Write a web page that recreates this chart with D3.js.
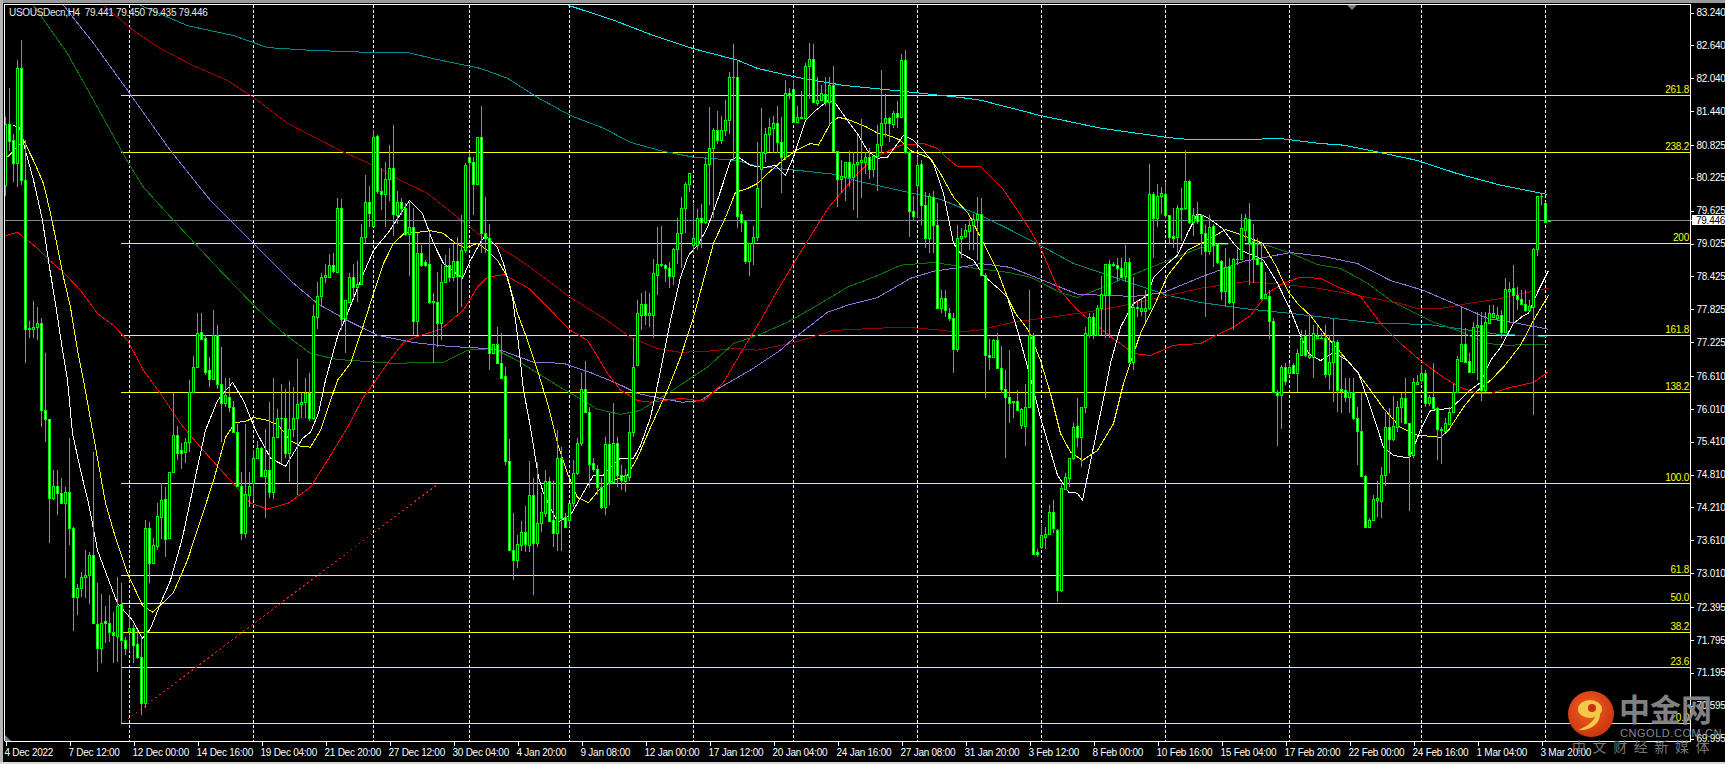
<!DOCTYPE html>
<html><head><meta charset="utf-8"><title>USOUSDecn,H4</title>
<script src="https://cdn.jsdelivr.net/npm/d3@7"></script>
<style>html,body{margin:0;padding:0;background:#000;overflow:hidden}svg{display:block}
text{font-family:"Liberation Sans","DejaVu Sans",sans-serif}</style></head><body>
<svg id="c" width="1725" height="764"></svg>
<script>
const symbolTitle="USOUSDecn,H4  79.441 79.450 79.435 79.446";
const lastPrice=79.446;
const priceTicks=[83.240,82.640,82.040,81.440,80.825,80.225,79.625,79.025,78.425,77.825,77.225,76.610,76.010,75.410,74.810,74.210,73.610,73.010,72.395,71.795,71.195,70.595,69.995];
const timeLabels=["4 Dec 2022","7 Dec 12:00","12 Dec 00:00","14 Dec 16:00","19 Dec 04:00","21 Dec 20:00","27 Dec 12:00","30 Dec 04:00","4 Jan 20:00","9 Jan 08:00","12 Jan 00:00","17 Jan 12:00","20 Jan 04:00","24 Jan 16:00","27 Jan 08:00","31 Jan 20:00","3 Feb 12:00","8 Feb 00:00","10 Feb 16:00","15 Feb 04:00","17 Feb 20:00","22 Feb 00:00","24 Feb 16:00","1 Mar 04:00","3 Mar 20:00"];
const timeLabelBars=timeLabels.map((d,i)=>i*16);
const separatorBars=[31,62,92,116,141,172,197,228,259,290,321,354,385];
const fibNames=["0.0","23.6","38.2","50.0","61.8","100.0","138.2","161.8","200","238.2","261.8"];
const fibPrices=[70.27,71.30,71.94,72.46,72.97,74.65,76.32,77.35,79.03,80.70,81.73];
const fibStartBar=29;
const trendBars=[29.5,108];
const trendPrices=[70.29,74.63];

const opens=[80.09,81.20,80.91,80.49,82.22,80.19,77.48,77.46,77.50,77.57,75.98,75.82,74.39,74.61,74.47,74.30,
74.49,73.83,72.57,72.74,72.94,72.97,73.35,72.09,71.64,72.13,72.11,71.93,71.86,72.44,71.79,71.95,
72.01,71.71,71.49,70.64,73.83,73.19,73.50,74.03,74.36,73.65,74.85,75.54,75.25,75.23,75.40,76.31,
76.78,77.42,77.30,76.71,76.55,77.35,76.47,76.11,76.22,76.05,75.58,74.61,73.74,74.43,74.65,75.11,
75.29,74.78,74.89,74.49,75.49,75.84,75.84,75.20,75.65,75.85,76.09,76.13,76.29,75.84,77.68,78.06,
78.41,78.41,78.64,78.50,79.68,77.66,77.95,78.41,78.23,78.28,79.14,79.78,79.34,80.98,79.98,79.92,
80.21,80.41,79.54,79.78,79.67,79.19,79.32,77.62,78.85,78.68,78.66,77.97,77.95,77.57,78.32,78.64,
78.41,78.70,78.43,78.90,80.61,80.51,80.12,80.96,79.21,79.12,77.02,77.20,76.84,76.60,75.05,73.43,
73.26,73.52,73.76,73.52,74.43,73.56,73.92,74.10,74.70,73.99,73.74,75.11,74.03,73.99,74.30,74.83,
75.38,76.38,75.95,75.03,74.92,74.58,74.21,75.36,74.67,75.38,74.81,74.70,74.76,75.58,76.80,77.73,
77.93,77.73,77.73,78.46,78.63,78.63,78.57,78.44,78.92,79.21,79.68,80.12,78.99,78.99,79.50,79.41,
80.47,80.76,81.09,80.91,81.09,81.27,82.07,82.06,79.56,79.43,78.70,79.03,79.14,80.38,80.67,81.03,
81.14,81.23,80.87,80.60,81.78,81.85,81.25,81.31,81.31,82.27,82.40,81.58,81.65,81.76,81.60,81.91,
80.72,80.21,80.23,80.51,80.23,80.47,80.51,80.51,80.60,80.38,80.63,80.83,81.23,81.31,81.20,81.40,
81.33,82.38,80.69,79.61,80.09,80.47,79.72,79.12,79.87,79.37,77.84,78.04,77.75,77.66,77.11,79.12,
79.17,79.26,79.37,79.47,79.56,78.46,77.00,76.95,77.26,76.75,76.38,76.22,76.15,76.16,75.71,75.69,
76.05,77.35,73.39,73.48,73.68,73.72,74.12,73.79,72.70,74.54,74.74,75.11,75.69,75.49,76.04,77.35,
77.68,77.35,77.84,78.08,78.66,78.63,78.64,78.57,78.43,78.68,76.87,77.86,77.79,77.79,77.84,79.92,
79.50,79.89,79.92,79.54,79.16,79.14,79.65,79.67,80.16,79.41,79.54,79.54,79.21,78.88,79.34,79.01,
78.70,78.15,78.61,77.95,78.74,78.75,79.28,79.48,79.08,78.77,78.68,78.04,78.06,77.62,76.31,76.26,
76.77,76.66,76.80,76.66,77.00,77.33,76.95,76.95,77.30,77.31,77.30,76.64,76.86,77.22,76.38,76.35,
76.22,76.31,75.85,75.60,74.78,73.85,73.99,74.34,74.32,74.80,75.67,75.45,75.67,76.05,76.20,75.76,
75.16,76.47,76.53,76.67,76.11,76.22,76.02,75.65,75.60,75.74,75.95,76.31,76.89,77.19,76.89,76.69,
77.50,77.53,76.36,77.57,77.68,77.66,77.73,77.42,78.15,78.21,78.08,78.01,77.93,77.82,77.86,78.92,
79.89,79.76,79.441];
const highs=[81.34,81.87,81.03,82.38,82.73,80.91,77.62,77.97,77.86,77.66,77.02,75.82,74.89,74.89,74.74,74.58,
75.47,73.85,72.81,73.03,73.43,73.39,75.23,72.83,72.64,72.42,72.61,72.30,72.95,72.84,71.84,72.33,
72.06,71.97,71.84,73.99,73.94,73.66,74.29,74.65,74.58,74.85,76.29,75.69,75.38,75.47,76.53,76.98,
77.75,77.75,77.35,76.95,77.82,77.53,77.13,76.57,76.57,76.16,75.74,74.85,75.74,74.85,75.25,75.43,
75.31,75.65,76.13,76.58,76.00,76.47,76.38,76.51,76.40,76.91,76.29,76.58,76.66,77.90,78.32,78.48,
78.66,78.83,78.85,79.85,79.83,77.99,78.48,78.66,78.70,79.39,80.27,80.07,81.09,81.00,80.40,80.51,
80.83,81.18,79.99,79.85,79.76,79.78,79.68,79.21,78.99,78.72,79.23,78.12,78.50,78.66,78.81,78.94,
79.01,79.14,79.54,80.49,80.67,80.60,80.96,81.54,79.87,79.39,77.19,77.50,77.39,76.78,75.45,74.10,
73.70,73.97,74.23,75.05,74.74,75.03,74.47,74.89,74.76,74.69,75.63,75.31,74.10,74.30,75.07,75.47,
76.66,76.89,76.05,75.12,74.98,74.74,75.49,75.93,76.11,75.49,74.98,74.92,75.89,77.31,77.99,78.13,
78.15,78.12,78.75,79.32,79.34,78.66,78.68,78.94,79.50,79.87,80.14,80.32,79.74,79.65,79.74,80.60,
81.51,81.13,81.45,81.36,81.64,82.16,82.66,82.37,79.61,79.45,79.03,79.34,80.87,81.49,81.14,81.31,
81.36,81.54,81.33,82.00,81.87,82.00,81.54,81.80,82.31,82.68,82.66,82.06,81.91,82.06,82.06,82.27,
80.72,80.54,80.51,80.72,80.69,81.00,81.29,80.69,80.76,80.63,81.18,82.20,81.75,81.33,81.45,81.62,
82.49,82.55,80.72,79.90,80.60,80.54,79.96,79.94,79.99,79.76,78.17,78.17,77.84,77.75,79.36,79.30,
79.39,79.48,79.57,79.87,79.85,78.48,77.29,77.29,77.39,77.15,76.71,77.08,76.16,76.35,76.02,76.47,
78.17,77.39,73.46,73.90,73.85,74.25,74.34,73.81,74.65,74.83,75.11,75.76,76.20,76.04,77.50,77.75,
77.75,77.90,78.44,78.66,78.72,78.68,78.77,78.77,78.99,78.77,78.41,77.99,78.04,78.17,80.47,79.96,
80.12,80.05,80.14,79.54,79.68,79.72,80.03,80.74,80.18,79.68,79.78,79.57,79.36,79.54,79.39,79.03,
78.72,78.94,78.77,78.77,78.94,79.57,79.57,79.76,79.39,79.12,79.03,78.50,78.17,77.66,76.35,76.80,
76.84,76.84,76.84,77.11,77.44,77.44,77.71,77.53,77.53,77.39,77.53,77.35,77.64,77.26,77.04,76.58,
76.57,76.57,76.04,76.29,74.80,74.01,74.43,74.70,74.94,75.95,76.02,76.24,76.16,76.29,76.57,75.76,
76.57,76.62,76.80,76.71,76.26,76.84,76.04,75.67,75.85,76.04,76.47,76.98,77.86,77.48,77.02,77.59,
77.77,77.77,77.77,77.90,77.90,77.86,77.81,78.39,78.32,78.64,78.23,78.17,78.17,77.99,78.94,79.90,
79.94,79.78,79.45];
const lows=[79.90,80.72,80.14,80.05,80.10,76.84,77.30,77.31,77.26,75.67,75.40,73.56,74.34,74.07,74.30,72.92,
73.52,71.95,72.24,72.57,72.55,72.44,72.11,71.20,71.37,71.73,71.75,71.37,71.39,70.27,71.51,71.60,
71.37,71.44,70.42,70.55,72.84,73.17,73.43,73.63,73.30,73.65,74.85,75.07,74.92,75.03,75.22,76.29,
76.77,77.26,76.62,76.40,76.53,76.38,75.40,76.04,75.95,75.56,74.61,73.61,73.65,74.21,74.34,75.11,
74.76,74.01,74.39,74.36,75.47,75.01,75.11,74.67,75.49,74.43,75.85,75.85,75.78,75.80,77.46,77.86,
78.30,78.39,78.48,78.50,77.44,77.02,77.95,78.04,77.95,78.26,79.03,79.32,79.34,79.92,79.63,79.32,
79.81,79.17,79.39,79.54,79.17,78.44,77.35,77.35,78.59,78.59,77.93,76.84,77.13,77.26,78.32,78.32,
78.35,77.75,77.86,78.86,79.39,79.54,80.12,78.85,78.85,76.71,77.02,76.84,76.58,74.98,73.43,72.88,
73.10,73.41,73.39,73.39,72.61,73.48,73.76,74.03,73.94,73.48,73.41,73.41,73.83,73.85,74.21,74.80,
75.34,75.95,74.56,74.85,74.43,74.19,74.07,74.25,74.65,74.58,74.52,74.49,74.70,75.49,76.80,77.44,
77.53,77.50,77.31,78.08,78.59,78.32,78.21,78.26,78.66,78.57,79.21,79.96,78.85,78.90,78.94,79.39,
79.72,79.50,80.85,80.85,80.98,81.03,80.54,79.30,79.23,78.66,78.44,78.63,79.08,79.67,80.51,80.69,
80.67,80.67,79.94,80.54,81.67,81.23,81.23,81.31,81.31,81.67,81.58,81.54,81.64,81.54,81.18,80.69,
79.70,79.94,79.81,80.05,79.63,79.50,79.85,80.30,80.21,80.23,79.99,80.67,80.96,80.87,81.14,81.14,
81.31,80.65,79.14,79.45,79.50,79.36,78.95,78.86,78.85,77.84,77.75,77.68,77.62,76.67,77.04,78.77,
79.12,78.90,78.90,78.72,78.44,76.20,76.71,76.93,76.73,76.29,75.12,75.76,75.85,75.98,75.65,75.34,
76.04,73.35,73.30,73.46,73.46,73.70,73.74,72.48,72.66,74.52,74.58,75.07,75.31,74.94,75.93,77.31,
77.29,77.35,77.35,77.31,77.31,78.59,78.35,78.39,78.32,76.84,76.71,77.68,77.71,77.59,77.81,78.77,
79.32,79.57,79.50,79.03,78.94,78.85,79.08,79.63,79.39,79.17,79.39,78.81,77.68,78.81,78.59,78.66,
77.99,77.86,77.93,77.44,78.63,78.72,79.08,78.26,78.30,78.66,77.99,78.02,77.29,76.29,75.34,75.65,
76.44,76.66,76.66,76.31,76.99,76.95,76.91,76.57,77.30,77.28,76.58,76.35,76.13,75.95,75.93,76.13,
75.93,75.80,74.98,74.76,73.83,73.83,73.97,74.03,74.01,74.61,74.83,75.43,75.58,75.76,75.74,74.14,
75.12,76.44,76.47,76.04,76.07,76.02,75.07,75.01,75.58,75.74,75.93,76.29,76.86,76.86,76.66,76.67,
76.53,76.16,76.31,77.57,77.66,77.66,77.30,77.39,77.57,77.57,77.81,77.90,77.77,77.81,75.89,78.79,
79.72,79.41,79.435];
const closes=[81.20,80.89,80.49,82.22,80.19,77.46,77.46,77.51,77.57,75.98,75.82,74.38,74.61,74.47,74.30,74.50,
73.83,72.57,72.74,72.95,72.97,73.34,72.11,71.64,72.11,72.11,71.93,71.88,72.41,71.80,71.64,72.01,
71.70,71.48,70.64,73.83,73.19,73.52,74.05,74.34,73.63,74.85,75.54,75.20,75.20,75.40,76.31,76.78,
77.40,77.28,76.69,76.55,77.35,76.47,76.11,76.26,76.04,75.58,74.61,73.74,74.45,74.61,75.11,75.29,
74.78,74.89,74.49,75.49,75.85,75.85,75.20,75.65,75.85,76.09,76.13,76.29,75.84,77.70,78.06,78.41,
78.46,78.63,78.53,79.68,77.64,77.99,78.41,78.23,78.28,79.14,79.78,79.59,80.96,79.98,79.92,80.21,
80.41,79.57,79.79,79.67,79.19,79.32,77.62,78.85,78.64,78.63,77.95,77.95,77.57,78.33,78.61,78.41,
78.70,78.43,78.90,80.45,80.51,80.12,80.96,79.21,79.12,77.02,77.19,76.84,76.58,75.05,73.43,73.26,
73.54,73.76,73.54,74.43,73.56,73.92,74.12,74.70,73.97,73.74,75.11,74.01,73.85,74.30,74.83,75.38,
76.38,75.95,75.01,74.92,74.58,74.21,75.36,74.67,75.38,74.81,74.72,74.81,75.58,76.78,77.75,77.93,
77.73,77.75,78.48,78.66,78.66,78.57,78.44,78.92,79.21,79.68,80.12,80.32,79.12,79.50,79.41,80.47,
80.76,81.09,80.92,81.09,81.27,82.07,82.06,79.52,79.41,78.70,79.03,79.14,80.03,80.69,81.03,81.16,
81.23,80.87,80.60,81.78,81.73,81.25,81.34,81.34,82.27,82.40,81.60,81.65,81.78,81.60,81.91,80.72,
80.21,80.25,80.51,80.23,80.47,80.52,80.54,80.60,80.38,80.63,80.85,81.23,81.31,81.22,81.40,81.33,
82.38,80.69,79.61,79.52,80.45,79.72,79.12,79.89,79.36,77.84,78.04,77.82,77.66,77.11,79.12,79.17,
79.28,79.37,79.48,79.56,78.46,77.00,76.95,77.26,76.75,76.38,76.22,76.11,76.13,75.98,76.00,76.04,
77.35,73.37,73.37,73.70,73.72,74.12,73.83,72.70,74.56,74.76,75.11,75.67,75.49,76.04,77.39,77.68,
77.35,77.84,78.10,78.66,78.08,78.66,78.57,78.41,78.68,76.87,77.86,77.84,77.84,77.84,79.92,79.50,
79.90,79.94,79.54,79.14,79.12,79.68,79.68,80.16,79.41,79.54,79.43,79.21,78.88,79.32,78.99,78.68,
78.15,78.59,77.95,78.75,78.75,79.30,79.50,79.06,78.77,78.66,78.04,78.10,77.62,76.31,76.27,76.77,
76.51,76.78,76.66,77.02,77.31,77.00,77.00,77.40,77.33,77.30,76.64,76.86,77.24,76.36,76.33,76.22,
76.31,75.85,75.60,74.78,73.85,73.99,74.36,74.38,74.81,75.67,75.45,75.69,76.05,76.20,75.76,75.16,
76.49,76.49,76.66,76.11,76.22,76.02,75.65,75.62,75.76,75.95,76.31,76.91,77.19,76.87,76.69,77.51,
77.53,76.36,77.60,77.75,77.75,77.73,77.42,78.19,78.19,78.08,78.01,77.92,77.82,77.88,78.92,79.90,
79.90,79.41,79.446];

const maWhite=[[2,81.18],[3.5,81.14],[4.5,80.85],[7,80.18],[9.25,79.45],[11,78.59],[12.5,77.93],[14.25,77.08],[15.5,76.53],[16.75,75.56],[18.75,74.89],[20.75,74.29],[23,73.43],[25.5,72.94],[28,72.46],[31.75,72.15],[34.25,71.82],[36.25,72.0],[38.75,72.46],[41.25,72.88],[44.25,73.66],[46.75,74.52],[50,75.62],[53,76.16],[56.75,76.49],[59.5,76.16],[62.5,75.62],[66.25,75.11],[70,74.96],[72,75.2],[74.25,75.47],[76.25,75.58],[78.25,75.93],[80,76.53],[83.25,77.39],[85,77.66],[89.5,78.48],[92,78.9],[95.75,79.23],[101,79.81],[104.25,79.57],[107,79.03],[109.5,78.66],[114.25,78.39],[116.25,78.72],[118.75,79.05],[120,79.17],[123,78.95],[124.5,78.66],[126.75,78.04],[128,77.35],[129.5,76.35],[131.25,75.67],[133.25,74.76],[134.5,74.47],[138,73.94],[141.25,74.07],[143.75,74.39],[147,74.8],[149.5,74.8],[151.25,74.94],[153.75,75.11],[157,75.11],[158.75,75.34],[161.25,75.85],[163.25,76.53],[166.25,77.62],[168.75,78.41],[170.75,78.81],[173,78.99],[175.5,79.32],[178.25,79.87],[181.25,80.54],[183,80.61],[186.25,80.45],[189.5,80.41],[192.5,80.45],[195,80.27],[197,80.6],[200,81.27],[202,81.42],[205.75,81.64],[207.5,81.58],[210.5,81.27],[213,81.03],[215.5,80.72],[218,80.58],[220.5,80.6],[223,80.85],[224.5,81.0],[227,80.91],[229.5,80.72],[232,80.49],[234.5,79.94],[237,79.03],[238.75,78.85],[242,78.72],[244.5,78.44],[248.75,78.17],[250.5,78.04],[253,77.44],[255.75,76.71],[258.75,75.85],[263,74.8],[265.75,74.49],[268,74.47],[269.25,74.34],[273.75,75.93],[276.25,76.84],[278.75,77.5],[282,77.93],[285.5,78.08],[287,78.41],[290.5,78.66],[293,78.81],[295.5,79.21],[298,79.57],[300.5,79.5],[304.25,79.3],[307,79.03],[308.75,78.9],[312,78.81],[314.5,78.72],[318,78.3],[321.25,77.81],[323.75,77.35],[325.75,77.02],[328.75,76.89],[332,77.04],[335.5,76.89],[338.25,76.66],[341.25,76.04],[344.5,75.31],[347,75.16],[351,75.11],[353.75,75.62],[356.25,75.98],[361.25,76.02],[363,76.13],[365.5,76.31],[368.75,76.49],[371.25,76.89],[373.75,77.13],[377,77.57],[379.5,77.71],[380.75,77.75],[383,78.13],[385.75,78.53]];
const maYellow=[[0.5,80.6],[2,80.72],[4.5,80.91],[7,80.54],[9.5,80.12],[11.25,79.58],[13,78.95],[14.5,78.41],[16.25,77.86],[18,77.08],[19.5,76.53],[22.5,75.31],[25,74.29],[27.5,73.66],[30.5,73.01],[34.25,72.42],[36.75,72.3],[39.5,72.48],[42,72.66],[45.5,73.25],[48.75,73.97],[52,74.7],[55,75.49],[57.5,75.76],[60,75.78],[62,75.85],[65.5,75.8],[68.25,75.71],[71.25,75.43],[73.75,75.33],[76.25,75.31],[78.75,75.62],[83,76.53],[86.25,76.84],[89.25,77.48],[92,78.12],[94.5,78.66],[97,79.03],[100,79.23],[103,79.23],[106.25,79.26],[109.5,79.21],[112.5,79.03],[115,78.94],[118,79.03],[120.5,78.9],[123,78.72],[125.5,78.41],[128,77.75],[130.5,77.26],[133,76.71],[135.5,76.11],[138,75.38],[140.5,74.83],[143,74.39],[145.75,74.3],[148.75,74.56],[152,74.7],[155.5,74.8],[158,75.12],[161.25,75.67],[165.5,76.35],[168.75,76.95],[172,77.68],[177,79.03],[180,79.5],[182.5,79.96],[185.5,80.03],[188,80.12],[190.5,80.3],[194.25,80.54],[197.5,80.72],[201.25,80.85],[203.25,80.82],[206.25,81.22],[208.25,81.33],[211.25,81.27],[215,81.16],[218.25,81.03],[220.75,81],[223.75,80.91],[226.25,80.72],[231.25,80.58],[233.75,80.3],[237,79.87],[240.75,79.57],[244.5,79.03],[248,78.53],[250.5,78.04],[252.5,77.75],[255.75,77.44],[258.75,76.89],[261.25,76.29],[263.75,75.56],[266.25,75.22],[269.25,75.07],[273,75.25],[277,75.74],[279.5,76.47],[283.75,77.39],[287,77.86],[290.5,78.44],[295.5,78.9],[299.5,79.05],[305,79.28],[308,79.21],[311.25,79.12],[314.25,79.03],[317.5,78.63],[320.5,78.17],[323,77.93],[326.25,77.71],[330,77.35],[333.75,77.04],[338,76.67],[341.25,76.35],[344.5,76.02],[348.75,75.67],[353,75.53],[358.75,75.49],[360.75,75.62],[364.5,76.04],[367.5,76.31],[371.25,76.53],[374.5,76.77],[378.75,77.17],[382,77.62],[385.75,78.08]];
const maRed=[[0,79.17],[3,79.23],[5.5,79.08],[8,78.94],[10.5,78.75],[14.5,78.5],[18.75,78.17],[23,77.75],[27,77.53],[30.5,77.26],[34.5,76.71],[38.75,76.29],[43.75,75.74],[48.75,75.31],[56.25,74.7],[61.25,74.29],[65.5,74.18],[70.75,74.29],[76.25,74.58],[80.5,75.07],[85.5,75.67],[89.5,76.22],[92,76.47],[95.5,76.84],[99.5,77.22],[103,77.33],[108.75,77.46],[114.5,77.81],[118,78.23],[120.5,78.41],[124.5,78.46],[130.75,78.21],[136.25,77.81],[141.25,77.44],[145.5,77.26],[150.5,76.66],[153.75,76.35],[158,76.16],[161.25,76.13],[168.75,76.2],[174.5,76.15],[179.5,76.49],[183.75,77.02],[188.75,77.62],[193,78.17],[197,78.66],[203.75,79.45],[205.75,79.68],[208.75,79.94],[213,80.3],[217,80.58],[223.75,80.82],[229.5,80.85],[233,80.76],[235.5,80.58],[238,80.43],[243.75,80.43],[249.25,80.03],[253,79.63],[255.75,79.32],[258.75,78.95],[263,78.22],[268,77.81],[272,77.57],[277,77.29],[282,77.02],[286.25,76.98],[292,77.17],[298.75,77.2],[303.75,77.39],[307,77.5],[311.25,77.71],[315.5,78.12],[319.5,78.3],[323.75,78.41],[328.75,78.39],[333.75,78.21],[338.75,78.06],[343.75,77.57],[348.75,77.2],[353.75,76.89],[359.5,76.58],[363.75,76.4],[368,76.29],[371.25,76.29],[376.25,76.4],[382,76.49],[385.75,76.69]];
const maMaroon=[[24.5,83.37],[32,82.91],[38.75,82.58],[47,82.27],[55.5,82.0],[62,81.69],[70.5,81.22],[76.25,81],[83.75,80.72],[92,80.45],[98.75,80.18],[105.5,79.94],[118.75,79.17],[123,78.99],[131.25,78.59],[141.25,78.04],[150.5,77.62],[156.25,77.31],[163,77.11],[168.75,77.04],[175.5,77.06],[182,77.11],[188,77.08],[196.25,77.2],[207,77.44],[223.75,77.5],[228.75,77.48],[238,77.41],[243,77.44],[252,77.59],[261.25,77.68],[273.75,77.81],[282,77.93],[298.75,78.21],[310,78.33],[319.5,78.28],[328,78.21],[338,78.08],[348.75,77.93],[353,77.84],[358.75,77.84],[365.5,77.93],[373.75,78.02],[378,78.1],[385.75,78.21]];
const maGreen=[[7,83.37],[15.5,82.49],[23,81.51],[30.75,80.49],[34.5,80.05],[42,79.45],[52,78.66],[62,77.9],[69.5,77.39],[76.25,77.02],[83,76.91],[97,76.84],[109.5,76.86],[115.5,77.08],[122,77.11],[128,76.89],[138.75,76.4],[144.5,76.16],[148,76],[153.75,75.91],[158.75,75.98],[165.5,76.29],[175.5,76.77],[182,77.2],[188.75,77.37],[195.5,77.59],[203,77.9],[210.5,78.23],[218,78.44],[223.75,78.63],[232,78.68],[240.5,78.59],[250.5,78.5],[256.25,78.41],[263.75,78.13],[268,78.04],[273.75,78.21],[281.25,78.44],[288.75,78.66],[298.75,78.95],[307,79.03],[315.5,78.99],[321.25,78.85],[328,78.64],[333.75,78.57],[340.5,78.3],[347,77.95],[352,77.77],[357,77.59],[363,77.44],[370.5,77.2],[375.5,77.17],[385.75,77.19]];
const maPurple=[[14.5,83.37],[22,82.68],[30.5,81.82],[41.25,80.72],[51.25,79.81],[62,79.03],[72,78.3],[78,77.93],[85.5,77.62],[93,77.35],[102,77.22],[110.5,77.15],[120.5,77.11],[123.75,77.08],[132,76.86],[139.5,76.84],[146.25,76.67],[153,76.47],[158,76.29],[163.75,76.2],[169.25,76.13],[173.75,76.16],[178.75,76.4],[187,76.75],[193.75,77.08],[197,77.29],[205.5,77.77],[210.5,77.9],[218,78.04],[226.25,78.39],[232,78.52],[238.75,78.59],[243.75,78.66],[251.25,78.59],[259.5,78.35],[268,78.1],[282,78.06],[289.5,78.13],[298.75,78.41],[309.5,78.7],[321.25,78.86],[329.5,78.79],[338,78.66],[346.25,78.35],[354.5,78.17],[363.75,77.88],[370.5,77.66],[378,77.57],[385.75,77.46]];
const maTeal=[[33.75,83.37],[45.5,83],[57,82.82],[65.5,82.6],[76.25,82.55],[92,82.51],[100.5,82.51],[108.75,82.37],[118.75,82.22],[125.5,82.04],[133,81.69],[141.25,81.36],[149.5,81.13],[156.25,80.87],[163.75,80.72],[172,80.6],[183,80.54],[188,80.43],[198,80.36],[207,80.29],[214.5,80.14],[223.75,79.99],[233.75,79.83],[243.75,79.54],[250.5,79.3],[258.75,78.99],[267,78.66],[278,78.39],[290.5,78.08],[298.75,77.95],[309.5,77.84],[321.25,77.75],[332,77.66],[343,77.57],[355.5,77.55],[364.5,77.46],[373,77.37],[385.5,77.33]];
const maCyan=[[140.75,83.37],[152,83.1],[162,82.82],[172,82.58],[183,82.37],[188,82.22],[197,82.07],[209.5,81.91],[222,81.82],[238.75,81.69],[243.75,81.64],[258.75,81.36],[273.75,81.13],[290.5,80.96],[296.25,80.92],[307,80.92],[318.75,80.94],[328.75,80.85],[334.5,80.82],[342,80.71],[353,80.54],[363,80.3],[373.75,80.09],[385.5,79.92]];
const maSeries=[[maCyan,"#00f0f5"],[maTeal,"#008b8b"],[maMaroon,"#9a0000"],[maGreen,"#0a780a"],[maPurple,"#9370db"],[maRed,"#ff0000"],[maYellow,"#ffff00"],[maWhite,"#ffffff"]];

const W=1725,H=764,L=5,T=5,R=1690,B=741;
const svg=d3.select("#c");
const x=d3.scaleLinear().domain([0,386]).range([5.5,1549.5]);
const y=d3.scaleLinear().domain([69.995,83.24]).range([738.5,12.5]);
const lime="#00ff00",wickC="#14e014",axisC="#ffffff";

svg.append("rect").attr("width",W).attr("height",H).attr("fill","#000");
svg.append("defs").append("clipPath").attr("id","plot").append("rect").attr("x",L).attr("y",T).attr("width",R-L).attr("height",B-T);
const plot=svg.append("g").attr("clip-path","url(#plot)").attr("shape-rendering","crispEdges");

// period separators
plot.selectAll(".sep").data(separatorBars).join("line").attr("x1",d=>x(d)).attr("x2",d=>x(d)).attr("y1",T).attr("y2",B)
 .attr("stroke","#fff").attr("stroke-dasharray","3,2");
// bid line
plot.append("line").attr("x1",L).attr("x2",R).attr("y1",Math.round(y(lastPrice))+.5).attr("y2",Math.round(y(lastPrice))+.5).attr("stroke","#778899");
// fibonacci
plot.selectAll(".fib").data(fibPrices).join("line").attr("x1",x(fibStartBar)-.5).attr("x2",R)
 .attr("y1",d=>Math.round(y(d))+.5).attr("y2",d=>Math.round(y(d))+.5).attr("stroke","#ffff00");
// trend
plot.append("line").attr("x1",x(trendBars[0])).attr("x2",x(trendBars[1])).attr("y1",y(trendPrices[0])).attr("y2",y(trendPrices[1]))
 .attr("stroke","#e02020").attr("stroke-dasharray","2,3");
// moving averages
const lineGen=d3.line().x(d=>x(d[0])).y(d=>y(d[1]));
plot.selectAll(".ma").data(maSeries).join("path").attr("d",d=>lineGen(d[0])).attr("fill","none").attr("stroke",d=>d[1]).attr("stroke-width",1);
// candles
const bars=d3.range(closes.length);
const g=plot.selectAll(".bar").data(bars).join("g");
g.append("line").attr("x1",i=>x(i)).attr("x2",i=>x(i)).attr("y1",i=>y(highs[i])).attr("y2",i=>y(lows[i])).attr("stroke",wickC);
g.append("rect").attr("x",i=>x(i)-1.5).attr("width",3)
 .attr("y",i=>Math.round(y(Math.max(opens[i],closes[i]))))
 .attr("height",i=>Math.max(1,Math.round(y(Math.min(opens[i],closes[i])))-Math.round(y(Math.max(opens[i],closes[i])))+1))
 .attr("fill",lime);
g.append("rect").attr("x",i=>x(i)-.5).attr("width",1)
 .attr("y",i=>Math.round(y(Math.max(opens[i],closes[i])))+1)
 .attr("height",i=>Math.max(0,Math.round(y(Math.min(opens[i],closes[i])))-Math.round(y(Math.max(opens[i],closes[i])))-1))
 .attr("fill",i=>closes[i]>=opens[i]?"#000":"#fff");

// frame
const frame=svg.append("g").attr("shape-rendering","crispEdges");
frame.append("rect").attr("width",W).attr("height",3).attr("fill","#9a9a9a");
frame.append("rect").attr("width",3).attr("height",H).attr("fill","#b4b4b4");
frame.append("rect").attr("y",H-2).attr("width",W).attr("height",2).attr("fill","#d8d8d8");
frame.append("line").attr("x1",4.5).attr("x2",4.5).attr("y1",4).attr("y2",B).attr("stroke","#fff");
frame.append("line").attr("x1",4).attr("x2",R+1).attr("y1",4.5).attr("y2",4.5).attr("stroke","#fff");

// axes
const axisFont='10px "Liberation Sans",sans-serif';
const tight="-0.25px";
const yAxis=d3.axisRight(y).tickValues(priceTicks).tickFormat(d3.format(".3f")).tickSize(3).tickPadding(3);
const ya=svg.append("g").attr("transform",`translate(${R+.5},0)`).call(yAxis);
const xAxis=d3.axisBottom(x).tickValues(timeLabelBars).tickFormat((d,i)=>timeLabels[i]).tickSize(4).tickPadding(3);
const xa=svg.append("g").attr("transform",`translate(0,${B+.5})`).call(xAxis);
for(const a of [ya,xa]){
 a.attr("shape-rendering","crispEdges");
 a.selectAll("path,line").attr("stroke",axisC);
 a.selectAll("text").attr("fill","#fff").style("font",axisFont).style("letter-spacing",tight);
}
xa.select("path").attr("d",`M4.5,0H${R+.5}`);
ya.select("path").attr("d",`M0,4.5V${B+.5}`);
xa.selectAll("text").attr("text-anchor","start").attr("dx",-1.5);

// fib labels
svg.selectAll(".fl").data(fibNames).join("text").attr("x",R-1).attr("y",(d,i)=>Math.round(y(fibPrices[i]))-2)
 .attr("text-anchor","end").attr("fill","#ffff00").style("font",axisFont).style("letter-spacing",tight).text(d=>d);

// bid label
svg.append("rect").attr("x",R+2).attr("y",Math.round(y(lastPrice))-5).attr("width",W-R-2).attr("height",10).attr("fill","#fff").attr("shape-rendering","crispEdges");
svg.append("line").attr("x1",R).attr("x2",R+3).attr("y1",Math.round(y(lastPrice))+.5).attr("y2",Math.round(y(lastPrice))+.5).attr("stroke","#fff");
svg.append("text").attr("x",R+6).attr("y",Math.round(y(lastPrice))+4).attr("fill","#000").style("font",axisFont).style("letter-spacing",tight).text(d3.format(".3f")(lastPrice));

// title
svg.append("text").attr("x",9).attr("y",16).attr("fill","#e8e8e8").style("font",axisFont).style("letter-spacing","-0.3px").style("white-space","pre").text(symbolTitle);

// markers
svg.append("path").attr("d",d3.line()([[1347,5],[1357,5],[1352,10]])+"Z").attr("fill","#708090");
svg.append("path").attr("d",d3.line()([[5,735],[5,741],[11,741]])+"Z").attr("fill","#708090");

// watermark
const wm=svg.append("g");
const grad=svg.select("defs").append("radialGradient").attr("id","lg").attr("cx","45%").attr("cy","40%").attr("r","65%");
grad.append("stop").attr("offset","0%").attr("stop-color","#f0641e");
grad.append("stop").attr("offset","100%").attr("stop-color","#c8300f");
wm.append("circle").attr("cx",1591).attr("cy",714).attr("r",23).attr("fill","url(#lg)");
wm.append("ellipse").attr("cx",1590).attr("cy",709).attr("rx",12).attr("ry",9).attr("fill","#f5c84a");
wm.append("circle").attr("cx",1592).attr("cy",708).attr("r",4).attr("fill","#c8300f");
wm.append("path").attr("d","M1600,712C1601,724 1590,731 1578,730C1586,727 1594,722 1597,713Z").attr("fill","#f5c84a");
wm.append("text").attr("x",1619).attr("y",721).attr("fill","#8d8d8d").attr("opacity",.92).style("font",'bold 31px "Noto Sans CJK SC",sans-serif').text("中金网");
wm.append("text").attr("x",1620).attr("y",737).attr("fill","#8a8a8a").style("font",'11px "Liberation Sans",sans-serif').style("letter-spacing",".55px").text("CNGOLD.COM.CN");
wm.append("text").attr("x",1572).attr("y",752).attr("fill","#777").style("font",'14px "Noto Sans CJK SC",sans-serif').style("letter-spacing","6.6px").text("中文财经新媒体");
</script></body></html>
